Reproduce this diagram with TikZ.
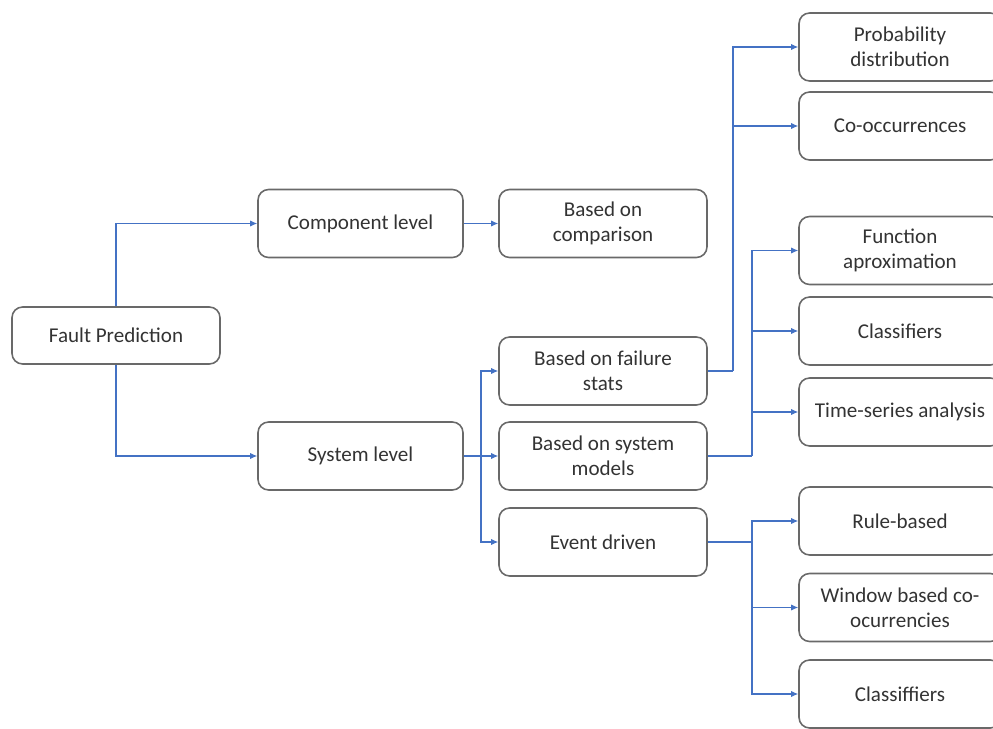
\documentclass[tikz,border=0pt]{standalone}
\usepackage{fontspec}
\setmainfont{Carlito}
\usetikzlibrary{arrows.meta}
\definecolor{lineblue}{RGB}{68,114,196}
\definecolor{boxgray}{RGB}{105,105,105}

\begin{document}
\begin{tikzpicture}[x=0.02cm,y=-0.02cm,
    box/.style={draw=boxgray,line width=0.9pt,rounded corners=6pt,align=center,
      text=black!80,font=\fontsize{12}{14.5}\selectfont,inner sep=2pt,
      minimum width=4.16cm,minimum height=1.36cm},
    link/.style={draw=lineblue,line width=0.6pt,-{Latex[length=4pt,width=3.5pt]}},
    trunk/.style={draw=lineblue,line width=0.6pt}]
    \useasboundingbox (0,0) rectangle (993,729);
    \clip (0,0) rectangle (993,729);

    % left part
    \node[box,minimum height=1.14cm] (FP) at (116,335.5) {Fault Prediction};
    \node[box,minimum width=4.1cm] (CL) at (360.5,223.5) {Component level};
    \node[box,minimum width=4.1cm] (SL) at (360.5,456) {System level};

    % middle column
    \node[box] (BC) at (603,223.5) {Based on\\comparison};
    \node[box] (BF) at (603,371) {Based on failure\\stats};
    \node[box] (BS) at (603,456) {Based on system\\models};
    \node[box] (ED) at (603,542) {Event driven};

    % right column
    \node[box,minimum width=4.04cm] (PD) at (900,47) {Probability\\distribution};
    \node[box,minimum width=4.04cm] (CO) at (900,126) {Co-occurrences};
    \node[box,minimum width=4.04cm] (FA) at (900,250.5) {Function\\aproximation};
    \node[box,minimum width=4.04cm] (CF) at (900,331) {Classifiers};
    \node[box,minimum width=4.04cm] (TS) at (900,412) {Time-series analysis};
    \node[box,minimum width=4.04cm] (RB) at (900,521) {Rule-based};
    \node[box,minimum width=4.04cm] (WB) at (900,607.5) {Window based co-\\ocurrencies};
    \node[box,minimum width=4.04cm] (CS) at (900,694) {Classiffiers};

    % junctions
    \coordinate (s1) at (481,456);
    \coordinate (f1) at (733,371);
    \coordinate (m1) at (752,456);
    \coordinate (e1) at (752,542);

    \draw[link] (FP.north) |- (CL.west);
    \draw[link] (FP.south) |- (SL.west);
    \draw[link] (CL) -- (BC);

    \draw[trunk] (SL.east) -- (s1);
    \draw[link] (s1) |- (BF.west);
    \draw[link] (s1) -- (BS.west);
    \draw[link] (s1) |- (ED.west);

    \draw[trunk] (BF.east) -- (f1);
    \draw[link] (f1) |- (PD.west);
    \draw[link] (f1) |- (CO.west);

    \draw[trunk] (BS.east) -- (m1);
    \draw[link] (m1) |- (FA.west);
    \draw[link] (m1) |- (CF.west);
    \draw[link] (m1) |- (TS.west);

    \draw[trunk] (ED.east) -- (e1);
    \draw[link] (e1) |- (RB.west);
    \draw[link] (e1) |- (WB.west);
    \draw[link] (e1) |- (CS.west);
\end{tikzpicture}
\end{document}
